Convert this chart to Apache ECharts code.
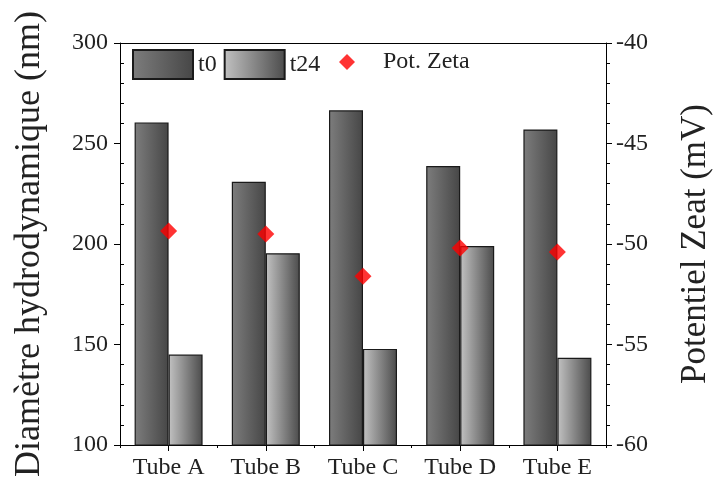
<!DOCTYPE html>
<html>
<head>
<meta charset="utf-8">
<script src="https://cdn.jsdelivr.net/npm/echarts@6/dist/echarts.min.js"></script>
<style>html,body{margin:0;padding:0;background:#fff}#c{width:721px;height:481px}</style>
</head>
<body>
<div id="c"></div>
<script>
var categories = ['Tube A', 'Tube B', 'Tube C', 'Tube D', 'Tube E'];
var t0Values = [260.5, 231, 266.5, 238.8, 257];
var t24Values = [145, 195.4, 147.8, 199, 143.4];
var zetaValues = [-49.35, -49.5, -51.6, -50.2, -50.4];
var leftTicks = {min: 100, max: 300, interval: 50};
var rightTicks = {min: -60, max: -40, interval: 5};

var FONT = "'Liberation Serif', 'Times New Roman', serif";
var TXT = '#222';
var chart = echarts.init(document.getElementById('c'), null, {renderer: 'canvas'});
function grad(a, b) {
  return new echarts.graphic.LinearGradient(0, 0, 1, 0, [{offset: 0, color: a}, {offset: 1, color: b}]);
}
var option = {
  backgroundColor: '#fff',
  animation: false,
  grid: {left: 120, right: 109, top: 43, bottom: 36, containLabel: false},
  legend: [
    {data: ['t0', 't24'], left: 132, top: 49, padding: 0, itemWidth: 60, itemHeight: 29, itemGap: 7, icon: 'rect',
     textStyle: {fontFamily: FONT, fontSize: 24, color: TXT}},
    {data: ['Pot. Zeta'], left: 339, top: 50, padding: 0, itemWidth: 16, itemHeight: 16,
     textStyle: {fontFamily: FONT, fontSize: 24, color: TXT, padding: [0, 0, 0, 23]}}
  ],
  xAxis: [
    {type: 'category', data: categories, position: 'bottom',
     axisLine: {show: true, lineStyle: {color: '#000', width: 1}},
     axisTick: {show: true, alignWithLabel: true, length: 6, lineStyle: {color: '#000'}},
     axisLabel: {fontFamily: FONT, fontSize: 24, color: TXT, margin: 11}},
    {type: 'category', data: categories, position: 'bottom',
     axisLine: {show: false},
     axisTick: {show: true, length: 3, lineStyle: {color: '#000'}},
     axisLabel: {show: false}},
    {type: 'category', data: categories, position: 'top',
     axisLine: {show: true, lineStyle: {color: '#000', width: 1}},
     axisTick: {show: false}, axisLabel: {show: false}}
  ],
  yAxis: [
    {type: 'value', position: 'left', min: leftTicks.min, max: leftTicks.max, interval: leftTicks.interval,
     name: 'Diamètre hydrodynamique (nm)', nameLocation: 'middle', nameGap: 72,
     nameTextStyle: {fontFamily: FONT, fontSize: 36, color: TXT},
     axisLine: {show: true, lineStyle: {color: '#000', width: 1}},
     axisTick: {show: true, length: 6, lineStyle: {color: '#000'}},
     splitLine: {show: false},
     axisLabel: {fontFamily: FONT, fontSize: 24, color: TXT, margin: 12}},
    {type: 'value', position: 'left', min: leftTicks.min, max: leftTicks.max, interval: leftTicks.interval,
     axisLine: {show: false},
     axisTick: {show: false, inside: true},
     minorTick: {show: true, splitNumber: 5, length: 4, lineStyle: {color: '#000'}},
     splitLine: {show: false}, axisLabel: {show: false}},
    {type: 'value', position: 'right', min: rightTicks.min, max: rightTicks.max, interval: rightTicks.interval,
     name: 'Potentiel Zeat (mV)', nameLocation: 'middle', nameGap: 72,
     nameTextStyle: {fontFamily: FONT, fontSize: 35, color: TXT},
     axisLine: {show: true, lineStyle: {color: '#000', width: 1}},
     axisTick: {show: true, length: 6, lineStyle: {color: '#000'}},
     minorTick: {show: true, splitNumber: 5, length: 4, lineStyle: {color: '#000'}},
     splitLine: {show: false},
     axisLabel: {fontFamily: FONT, fontSize: 24, color: TXT, margin: 10}}
  ],
  series: [
    {name: 't0', type: 'bar', xAxisIndex: 0, yAxisIndex: 0, data: t0Values, barWidth: 34, barGap: '0%',
     itemStyle: {color: grad('#7d7d7d', '#464646'), borderColor: '#1a1a1a', borderWidth: 1.2}},
    {name: 't24', type: 'bar', xAxisIndex: 0, yAxisIndex: 0, data: t24Values, barWidth: 34, barGap: '0%',
     itemStyle: {color: grad('#c2c2c2', '#4b4b4b'), borderColor: '#1a1a1a', borderWidth: 1.2}},
    {name: 'Pot. Zeta', type: 'scatter', xAxisIndex: 0, yAxisIndex: 2, data: zetaValues,
     symbol: 'diamond', symbolSize: 17, z: 5,
     itemStyle: {color: '#ff0000'}}
  ]
};
chart.setOption(option);
</script>
</body>
</html>
